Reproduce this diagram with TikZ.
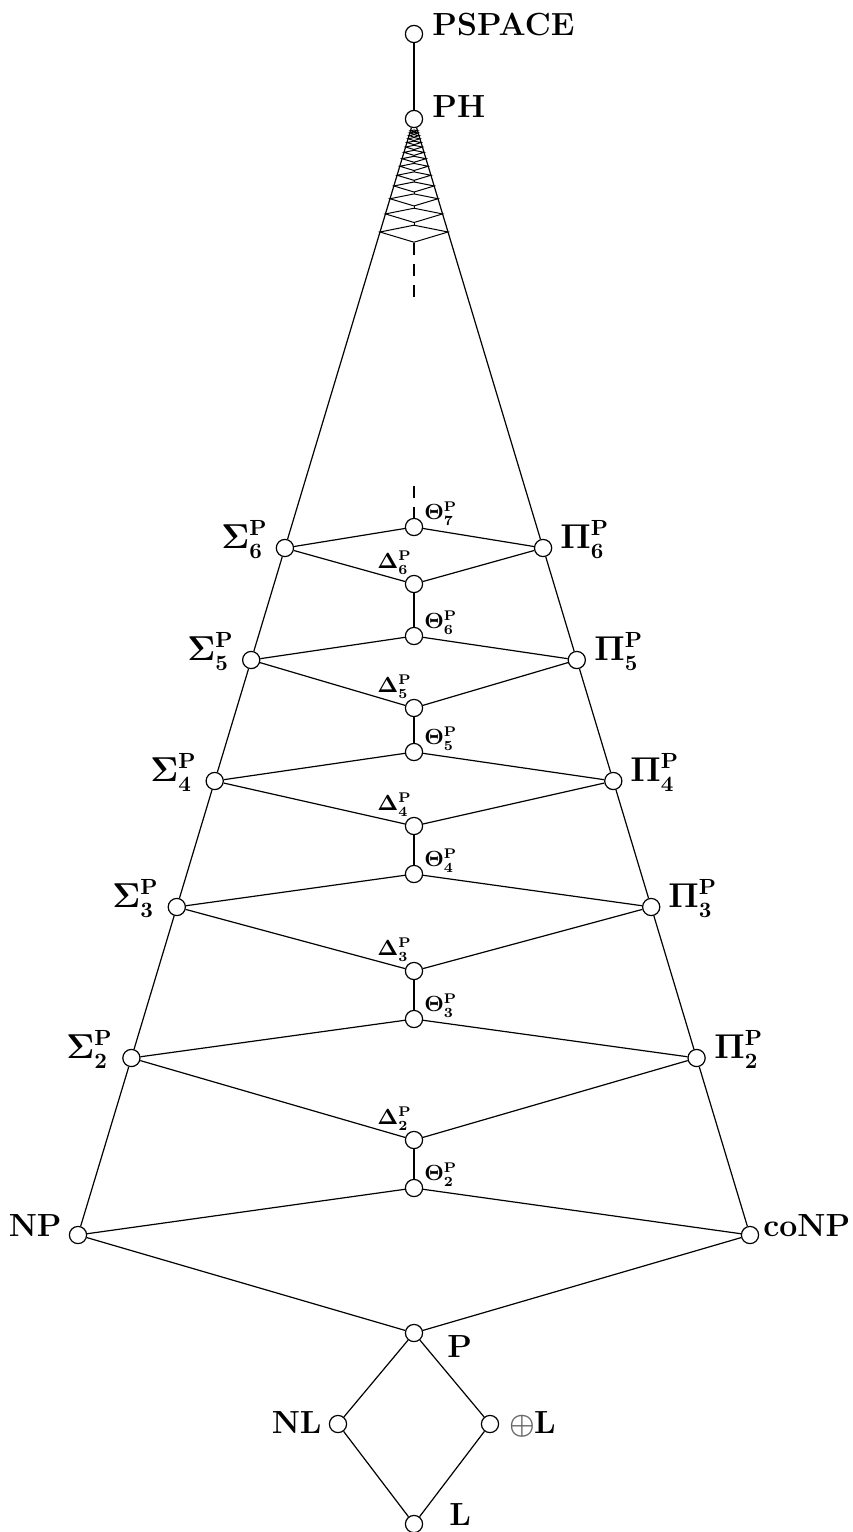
\documentclass[tikz,border=0pt]{standalone}
\usepackage{amsmath}
\begin{document}
\begin{tikzpicture}[x=0.5pt,y=-0.5pt,
  vtx/.style={circle,draw,fill=white,inner sep=0pt,minimum size=8.6pt,line width=0.6pt},
  big/.style={font=\fontsize{16}{19}\selectfont\bfseries\boldmath,inner sep=0pt},
  small/.style={font=\fontsize{10.5}{12}\selectfont\bfseries\boldmath,inner sep=0pt},
  edge/.style={line width=0.6pt},
  rung/.style={line width=0.5pt},
  gapdash/.style={line width=0.6pt,dash pattern=on 6pt off 4.5pt}]
\useasboundingbox (0,0) rectangle (852,1532);

% vertices
\node[vtx] (PSPACE) at (414,34) {};
\node[vtx] (PH) at (414,119) {};
\node[vtx] (NP) at (78,1235) {};
\node[vtx] (coNP) at (750,1235) {};
\node[vtx] (S2) at (131.4,1058) {};
\node[vtx] (S3) at (176.8,907) {};
\node[vtx] (S4) at (214.7,781) {};
\node[vtx] (S5) at (251.2,660) {};
\node[vtx] (S6) at (284.9,548) {};
\node[vtx] (P2) at (696.6,1058) {};
\node[vtx] (P3) at (651.2,907) {};
\node[vtx] (P4) at (613.3,781) {};
\node[vtx] (P5) at (576.8,660) {};
\node[vtx] (P6) at (543.1,548) {};
\node[vtx] (T2) at (414,1188) {};
\node[vtx] (T3) at (414,1019) {};
\node[vtx] (T4) at (414,874) {};
\node[vtx] (T5) at (414,752) {};
\node[vtx] (T6) at (414,636) {};
\node[vtx] (T7) at (414,527) {};
\node[vtx] (D2) at (414,1140) {};
\node[vtx] (D3) at (414,971) {};
\node[vtx] (D4) at (414,826) {};
\node[vtx] (D5) at (414,708) {};
\node[vtx] (D6) at (414,584) {};
\node[vtx] (Pc) at (414,1333) {};
\node[vtx] (NL) at (338,1424) {};
\node[vtx] (XL) at (490,1424) {};
\node[vtx] (L) at (414,1524) {};

% ladder near PH (drawn directly)
\foreach \i in {0,...,13}{
  \pgfmathsetmacro{\d}{113*0.84^\i}
  \pgfmathsetmacro{\w}{0.301*\d}
  \pgfmathsetmacro{\yy}{119+\d}
  \pgfmathsetmacro{\yt}{\yy-0.2*\w}
  \pgfmathsetmacro{\yb}{\yy+0.3*\w}
  \draw[rung] (414-\w,\yy) -- (414,\yt) -- (414+\w,\yy) -- (414,\yb) -- cycle;
}
\foreach \i in {1,...,13}{
  \pgfmathsetmacro{\d}{113*0.84^\i}
  \pgfmathsetmacro{\e}{113*0.84^(\i-1)}
  \pgfmathsetmacro{\yb}{119+\d+0.3*0.301*\d}
  \pgfmathsetmacro{\yt}{119+\e-0.2*0.301*\e}
  \draw[rung] (414,\yb) -- (414,\yt);
}
\coordinate (ladderbot) at (414,243);
\coordinate (gaptop) at (414,297);
\coordinate (gapbot) at (414,486);
\draw[gapdash] (ladderbot) -- (gaptop);
\draw[gapdash] (gapbot) -- (T7);

% edges
\draw[edge] (PSPACE) -- (PH);
\draw[edge] (NP) -- (S2) -- (S3) -- (S4) -- (S5) -- (S6) -- (PH);
\draw[edge] (coNP) -- (P2) -- (P3) -- (P4) -- (P5) -- (P6) -- (PH);
\draw[edge] (NP) -- (Pc) -- (coNP);
\draw[edge] (NP) -- (T2) -- (coNP);
\draw[edge] (T2) -- (D2);
\draw[edge] (S2) -- (D2) -- (P2);
\draw[edge] (S2) -- (T3) -- (P2);
\draw[edge] (T3) -- (D3);
\draw[edge] (S3) -- (D3) -- (P3);
\draw[edge] (S3) -- (T4) -- (P3);
\draw[edge] (T4) -- (D4);
\draw[edge] (S4) -- (D4) -- (P4);
\draw[edge] (S4) -- (T5) -- (P4);
\draw[edge] (T5) -- (D5);
\draw[edge] (S5) -- (D5) -- (P5);
\draw[edge] (S5) -- (T6) -- (P5);
\draw[edge] (T6) -- (D6);
\draw[edge] (S6) -- (D6) -- (P6);
\draw[edge] (S6) -- (T7) -- (P6);
\draw[edge] (Pc) -- (NL) -- (L) -- (XL) -- (Pc);

% labels
\node[big,anchor=base west] (lPSPACE) at (432,35) {PSPACE};
\node[big,anchor=base west] (lPH) at (432,117) {PH};
\node[big,anchor=base east] (lNP) at (62,1236) {NP};
\node[big,anchor=base west] (lcoNP) at (763,1236) {coNP};
\node[big,anchor=base east] (lS2) at (113,1058) {$\Sigma^{\mathrm P}_2$};
\node[big,anchor=base east] (lS3) at (159,907) {$\Sigma^{\mathrm P}_3$};
\node[big,anchor=base east] (lS4) at (197,781) {$\Sigma^{\mathrm P}_4$};
\node[big,anchor=base east] (lS5) at (234,660) {$\Sigma^{\mathrm P}_5$};
\node[big,anchor=base east] (lS6) at (268,548) {$\Sigma^{\mathrm P}_6$};
\node[big,anchor=base west] (lP2) at (714,1058) {$\Pi^{\mathrm P}_2$};
\node[big,anchor=base west] (lP3) at (668,907) {$\Pi^{\mathrm P}_3$};
\node[big,anchor=base west] (lP4) at (630,781) {$\Pi^{\mathrm P}_4$};
\node[big,anchor=base west] (lP5) at (594,660) {$\Pi^{\mathrm P}_5$};
\node[big,anchor=base west] (lP6) at (560,548) {$\Pi^{\mathrm P}_6$};
\node[small,anchor=base west] (lT2) at (424,1180) {$\Theta^{\mathrm P}_2$};
\node[small,anchor=base west] (lT3) at (424,1011) {$\Theta^{\mathrm P}_3$};
\node[small,anchor=base west] (lT4) at (424,866) {$\Theta^{\mathrm P}_4$};
\node[small,anchor=base west] (lT5) at (424,744) {$\Theta^{\mathrm P}_5$};
\node[small,anchor=base west] (lT6) at (424,628) {$\Theta^{\mathrm P}_6$};
\node[small,anchor=base west] (lT7) at (424,519) {$\Theta^{\mathrm P}_7$};
\node[small,anchor=base east] (lD2) at (412,1124) {$\Delta^{\mathrm P}_2$};
\node[small,anchor=base east] (lD3) at (412,955) {$\Delta^{\mathrm P}_3$};
\node[small,anchor=base east] (lD4) at (412,810) {$\Delta^{\mathrm P}_4$};
\node[small,anchor=base east] (lD5) at (412,692) {$\Delta^{\mathrm P}_5$};
\node[small,anchor=base east] (lD6) at (412,568) {$\Delta^{\mathrm P}_6$};
\node[big,anchor=base west] (lPc) at (447,1357) {P};
\node[big,anchor=base east] (lNL) at (322,1433) {NL};
\node[big,anchor=base west] (lXL) at (509,1433) {{\fontsize{14}{16}\selectfont$\color{black!60}\oplus$}\kern-0.5ptL};
\node[big,anchor=base west] (lL) at (449,1525) {L};
\end{tikzpicture}
\end{document}
